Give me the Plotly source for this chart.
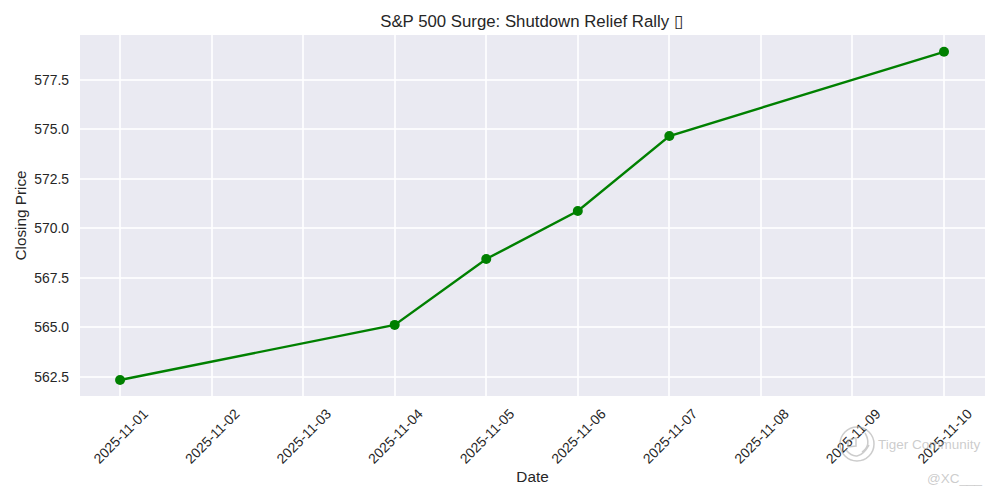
import plotly.graph_objects as go

dates = ["2025-11-01", "2025-11-04", "2025-11-05", "2025-11-06", "2025-11-07", "2025-11-10"]
closes = [562.35, 565.13, 568.46, 570.88, 574.67, 578.92]
x_ticks = ["2025-11-01", "2025-11-02", "2025-11-03", "2025-11-04", "2025-11-05",
           "2025-11-06", "2025-11-07", "2025-11-08", "2025-11-09", "2025-11-10"]
y_ticks = [562.5, 565.0, 567.5, 570.0, 572.5, 575.0, 577.5]
title_text = "S&P 500 Surge: Shutdown Relief Rally \u25AF"

FONT = "Liberation Sans"
INK = "#262626"
WM = "rgba(170,170,170,0.6)"
GRID = "rgba(255,255,255,0.8)"


def px(x):
    return (x - 80) / 905


def py(y):
    return (396 - y) / 361


smile = (f"M {px(846)} {py(450)} Q {px(858)} {py(464)} {px(869)} {py(445)} "
         f"M {px(865)} {py(433)} Q {px(872)} {py(445)} {px(862)} {py(452)} "
         f"M {px(848)} {py(447)} L {px(848)} {py(440)} L {px(856)} {py(438)} L {px(856)} {py(446)} Z")

fig = go.Figure(go.Scatter(
    x=dates, y=closes, mode="lines+markers",
    line=dict(color="green", width=2.4),
    marker=dict(color="green", size=10),
    cliponaxis=False,
))

fig.update_layout(
    width=992, height=492, autosize=False,
    margin=dict(l=72, r=15, t=27, b=104),
    paper_bgcolor="white", plot_bgcolor="#EAEAF2",
    font=dict(family=FONT, size=13.9, color=INK),
    showlegend=False,
    title=dict(text=title_text, x=(531.5 - 8) / 992, xanchor="center", xref="container",
               y=(492 - 13.5) / 492, yanchor="middle",
               font=dict(family=FONT, size=16.8, color=INK)),
    xaxis=dict(
        type="date",
        range=["2025-10-31 13:30", "2025-11-10 10:45"],
        tickmode="array", tickvals=x_ticks, ticktext=x_ticks, tickangle=-45,
        showgrid=True, gridcolor=GRID, gridwidth=1.5, zeroline=False,
        ticks="", showline=False, ticklabelshift=24, ticklabelstandoff=6,
        title=dict(text="Date", font=dict(size=15.3), standoff=5),
    ),
    yaxis=dict(
        range=[561.54, 579.77],
        tickmode="array", tickvals=y_ticks, ticktext=[f"{v:.1f}" for v in y_ticks],
        showgrid=True, gridcolor=GRID, gridwidth=1.5, zeroline=False,
        ticks="", showline=False, ticklabelstandoff=10,
        title=dict(text="Closing Price", font=dict(size=15.3), standoff=3),
    ),
    shapes=[
        dict(type="circle", xref="paper", yref="paper",
             x0=px(840), x1=px(874), y0=py(461), y1=py(427),
             line=dict(color=WM, width=1.5), layer="above"),
        dict(type="path", xref="paper", yref="paper", path=smile,
             line=dict(color=WM, width=1.5), layer="above"),
    ],
    annotations=[
        dict(text="Tiger Community", xref="paper", yref="paper",
             x=px(929), y=py(444), xanchor="center", yanchor="middle",
             showarrow=False, font=dict(family=FONT, size=13.5, color=WM)),
        dict(text="@XC___", xref="paper", yref="paper",
             x=px(954), y=py(478), xanchor="center", yanchor="middle",
             showarrow=False, font=dict(family=FONT, size=13.5, color=WM)),
    ],
)

fig.write_html("out.html")
